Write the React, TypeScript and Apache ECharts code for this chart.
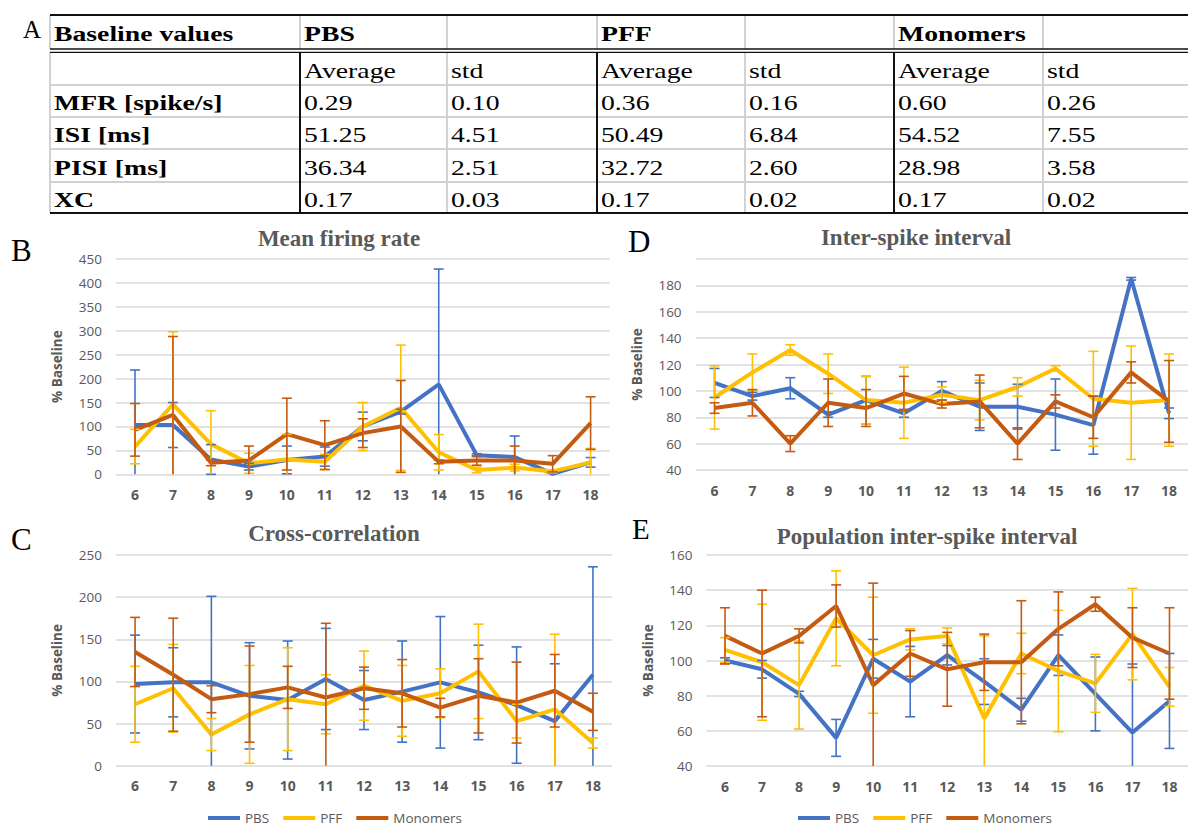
import React, { useEffect, useRef } from "react";
import * as echarts from "echarts";

// ---------- Data ----------
const days = ["6", "7", "8", "9", "10", "11", "12", "13", "14", "15", "16", "17", "18"];
const groups = ["PBS", "PFF", "Monomers"];

// Table (panel A)
const tableTopHeader = ["Baseline values", "PBS", "", "PFF", "", "Monomers", ""];
const tableSubHeader = ["", "Average", "std", "Average", "std", "Average", "std"];
const rowLabels = ["MFR [spike/s]", "ISI [ms]", "PISI [ms]", "XC"];
const pbsAverage = ["0.29", "51.25", "36.34", "0.17"];
const pbsStd = ["0.10", "4.51", "2.51", "0.03"];
const pffAverage = ["0.36", "50.49", "32.72", "0.17"];
const pffStd = ["0.16", "6.84", "2.60", "0.02"];
const monoAverage = ["0.60", "54.52", "28.98", "0.17"];
const monoStd = ["0.26", "7.55", "3.58", "0.02"];

// B: Mean firing rate (% baseline) and error (std)
const mfrPBS = [103, 103, 31, 16, 30, 37, 100, 131, 188, 40, 36, 1, 25];
const mfrPBSErr = [115, 47, 31, 7, 29, 20, 30, 5, 241, 3, 44, 3, 10];
const mfrPFF = [58, 146, 63, 23, 31, 26, 100, 139, 46, 9, 14, 6, 25];
const mfrPFFErr = [36, 152, 70, 21, 53, 16, 50, 131, 37, 6, 7, 3, 29];
const mfrMono = [93, 124, 24, 29, 84, 61, 86, 100, 26, 29, 29, 22, 107];
const mfrMonoErr = [55, 164, 6, 30, 75, 51, 30, 96, 4, 10, 30, 17, 55];

// D: Inter-spike interval
const isiPBS = [106, 96, 102, 82, 93, 83, 100, 88, 88, 82, 74, 185, 83];
const isiPBSErr = [11, 3, 8, 2, 18, 3, 7, 18, 17, 27, 22, 1, 4];
const isiPFF = [95, 114, 131, 113, 93, 91, 97, 93, 103, 117, 94, 91, 93];
const isiPFFErr = [24, 14, 4, 15, 18, 27, 6, 15, 7, 2, 36, 43, 35];
const isiMono = [87, 91, 60, 91, 87, 98, 90, 92, 60, 92, 80, 114, 92];
const isiMonoErr = [4, 10, 6, 18, 14, 13, 3, 20, 12, 5, 16, 8, 31];

// C: Cross-correlation
const xcPBS = [97, 99, 99, 83, 78, 103, 78, 88, 99, 87, 72, 53, 108];
const xcPBSErr = [58, 41, 102, 63, 70, 60, 35, 60, 78, 56, 69, 68, 128];
const xcPFF = [73, 92, 37, 61, 79, 73, 95, 77, 86, 112, 53, 67, 27];
const xcPFFErr = [45, 52, 19, 58, 61, 35, 41, 42, 29, 56, 20, 89, 6];
const xcMono = [135, 108, 79, 85, 93, 81, 92, 86, 69, 83, 75, 89, 64];
const xcMonoErr = [41, 67, 16, 57, 25, 88, 25, 40, 11, 44, 48, 43, 22];

// E: Population inter-spike interval
const pisiPBS = [100, 95, 81, 56, 101, 88, 103, 88, 72, 103, 81, 59, 77];
const pisiPBSErr = [1.5, 5, 1.5, 10.5, 11, 20, 5.5, 13, 6.5, 11.5, 21, 39, 27];
const pisiPFF = [106, 99, 86, 124, 103, 112, 114, 67, 104, 94, 87, 115, 85];
const pisiPFFErr = [7, 33, 25, 27, 33, 6, 4.5, 47, 11.5, 34.5, 16.5, 26, 11];
const pisiMono = [114, 104, 114, 131, 86, 104, 95, 99, 99, 118, 132, 113, 104];
const pisiMonoErr = [16, 36, 4, 12, 58, 13, 21, 16, 35, 21, 4, 17, 26];

// ---------- Styling ----------
const COLORS = ["#4472C4", "#FFC000", "#C55A11"];
const GRAY_TEXT = "#595959";
const GRID_LINE = "#d9d9d9";
const SANS = '"Open Sans", "Noto Sans", sans-serif';
const SERIF = '"Liberation Serif", "Times New Roman", serif';

const panels = [
  {
    title: "Mean firing rate", titleX: 339, titleY: 238,
    grid: { left: 116, top: 259, width: 493.6, height: 215.3 },
    min: 0, max: 450, interval: 50, showMax: true,
    series: [[mfrPBS, mfrPBSErr], [mfrPFF, mfrPFFErr], [mfrMono, mfrMonoErr]],
  },
  {
    title: "Inter-spike interval", titleX: 916, titleY: 237,
    grid: { left: 695.6, top: 259, width: 495.3, height: 211 },
    min: 40, max: 200, interval: 20, showMax: false,
    series: [[isiPBS, isiPBSErr], [isiPFF, isiPFFErr], [isiMono, isiMonoErr]],
  },
  {
    title: "Cross-correlation", titleX: 334, titleY: 533,
    grid: { left: 116, top: 555, width: 496, height: 210.8 },
    min: 0, max: 250, interval: 50, showMax: true,
    series: [[xcPBS, xcPBSErr], [xcPFF, xcPFFErr], [xcMono, xcMonoErr]],
  },
  {
    title: "Population inter-spike interval", titleX: 927, titleY: 536,
    grid: { left: 706.5, top: 555, width: 492.7, height: 211 },
    min: 40, max: 160, interval: 20, showMax: true,
    series: [[pisiPBS, pisiPBSErr], [pisiPFF, pisiPFFErr], [pisiMono, pisiMonoErr]],
  },
];

function errorSeries(gi: number, vals: number[], errs: number[], color: string, min: number, max: number) {
  return {
    type: "custom",
    xAxisIndex: gi,
    yAxisIndex: gi,
    silent: true,
    z: 3,
    data: vals.map((v, i) => [
      i,
      Math.max(v - errs[i], min),
      Math.min(v + errs[i], max),
      v - errs[i] < min ? 1 : 0,
    ]),
    encode: { x: 0, y: [1, 2] },
    renderItem: (params: any, api: any) => {
      const i = api.value(0);
      const lo = api.value(1);
      const hi = api.value(2);
      const clipped = api.value(3);
      const p1 = api.coord([i, hi]);
      const p2 = api.coord([i, lo]);
      const style = { stroke: color, lineWidth: 1.6 };
      const children: any[] = [
        { type: "line", shape: { x1: p1[0], y1: p1[1], x2: p2[0], y2: p2[1] }, style },
        { type: "line", shape: { x1: p1[0] - 5, y1: p1[1], x2: p1[0] + 5, y2: p1[1] }, style },
      ];
      if (!clipped) {
        children.push({ type: "line", shape: { x1: p2[0] - 5, y1: p2[1], x2: p2[0] + 5, y2: p2[1] }, style });
      }
      return { type: "group", children };
    },
  };
}

function buildTableGraphics() {
  const els: any[] = [];
  const colX = [50, 300, 447, 597, 745, 894, 1043];
  const right = 1188;
  const top = 15;
  const headBottom = 50.5;
  const rowLines = [52, 85, 117, 149, 182, 213];
  const light = "#d2d2d2";
  const line = (x1: number, y1: number, x2: number, y2: number, stroke: string, w: number) =>
    els.push({ type: "line", shape: { x1, y1, x2, y2 }, style: { stroke, lineWidth: w }, z: 10 });

  for (let r = 1; r < rowLines.length - 1; r++) line(colX[0], rowLines[r], right, rowLines[r], light, 2);
  colX.forEach((x, ci) => {
    line(x, top, x, headBottom - 1.5, light, 2);
    const black = ci === 1 || ci === 3 || ci === 5;
    line(x, rowLines[0], x, rowLines[rowLines.length - 1], black ? "#111" : light, 2);
  });
  line(colX[0], top, right, top, "#111", 2);
  line(colX[0], 49, right, 49, "#111", 1.3);
  line(colX[0], 52.3, right, 52.3, "#111", 1.3);
  line(colX[0], 213, right, 213, "#111", 2);

  const txt = (text: string, x: number, y: number, bold: boolean) =>
    els.push({
      type: "text",
      x,
      y,
      scaleX: 1.26,
      z: 11,
      style: {
        text,
        font: `${bold ? "bold " : ""}22px ${SERIF}`,
        fill: "#000",
        align: "left",
        verticalAlign: "middle",
      },
    });

  tableTopHeader.forEach((t, ci) => {
    if (t) txt(t, colX[ci] + 4, 34, true);
  });
  const rowCenters = [70.5, 103, 135, 167.5, 199.5];
  tableSubHeader.forEach((t, ci) => {
    if (t) txt(t, colX[ci] + 4, rowCenters[0], false);
  });
  const cols = [pbsAverage, pbsStd, pffAverage, pffStd, monoAverage, monoStd];
  rowLabels.forEach((lab, ri) => {
    txt(lab, colX[0] + 4, rowCenters[ri + 1], true);
    cols.forEach((c, ci) => txt(c[ri], colX[ci + 1] + 4, rowCenters[ri + 1], false));
  });
  return els;
}

export default function App() {
  const ref = useRef<HTMLDivElement>(null);

  useEffect(() => {
    if (!ref.current) return;
    const chart = echarts.init(ref.current, undefined, { renderer: "svg" });

    const grids = panels.map((p) => ({ ...p.grid, containLabel: false }));
    const xAxes = panels.map((p, gi) => ({
      type: "category",
      gridIndex: gi,
      data: days,
      boundaryGap: true,
      axisLine: { show: false },
      axisTick: { show: false },
      axisLabel: { color: GRAY_TEXT, fontWeight: "bold", fontSize: 14, fontFamily: SANS, margin: 13, interval: 0 },
      splitLine: { show: false },
    }));
    const yAxes = panels.map((p, gi) => ({
      type: "value",
      gridIndex: gi,
      min: p.min,
      max: p.max,
      interval: p.interval,
      axisLine: { show: false },
      axisTick: { show: false },
      axisLabel: { color: GRAY_TEXT, fontSize: 13.5, fontFamily: SANS, margin: 14, showMaxLabel: p.showMax },
      splitLine: { lineStyle: { color: GRID_LINE, width: 1.5 } },
      name: "% Baseline",
      nameLocation: "middle",
      nameGap: 52,
      nameTextStyle: { color: GRAY_TEXT, fontWeight: "bold", fontSize: 13.5, fontFamily: SANS },
    }));

    const series: any[] = [];
    panels.forEach((p, gi) => {
      p.series.forEach(([vals, errs], si) => {
        series.push({
          type: "line",
          name: groups[si],
          xAxisIndex: gi,
          yAxisIndex: gi,
          data: vals,
          symbol: "none",
          showSymbol: false,
          z: 2,
          lineStyle: { color: COLORS[si], width: 4 },
          itemStyle: { color: COLORS[si] },
        });
        series.push(errorSeries(gi, vals, errs, COLORS[si], p.min, p.max));
      });
    });

    const letters = [
      { t: "A", x: 23, y: 29, size: 25 },
      { t: "B", x: 11, y: 250, size: 31 },
      { t: "C", x: 11, y: 539, size: 31 },
      { t: "D", x: 628, y: 241, size: 31 },
      { t: "E", x: 632, y: 529, size: 29 },
    ];

    const graphic: any[] = [
      ...buildTableGraphics(),
      ...letters.map((l) => ({
        type: "text",
        x: l.x,
        y: l.y,
        style: { text: l.t, font: `${l.size}px ${SERIF}`, fill: "#000", align: "left", verticalAlign: "middle" },
      })),
      ...panels.map((p) => ({
        type: "text",
        x: p.titleX,
        y: p.titleY,
        style: { text: p.title, font: `bold 23px ${SERIF}`, fill: GRAY_TEXT, align: "center", verticalAlign: "middle" },
      })),
    ];

    const legendBase = {
      data: groups,
      icon: "rect",
      itemWidth: 32,
      itemHeight: 4,
      itemGap: 14,
      padding: 0,
      textStyle: { color: GRAY_TEXT, fontSize: 13.5, fontFamily: SANS },
      selectedMode: false,
    };

    chart.setOption({
      animation: false,
      backgroundColor: "#ffffff",
      grid: grids,
      xAxis: xAxes,
      yAxis: yAxes,
      series,
      graphic,
      legend: [
        { ...legendBase, left: 208, top: 811 },
        { ...legendBase, left: 798, top: 811 },
      ],
    });

    return () => chart.dispose();
  }, []);

  return (
    <div
      ref={ref}
      style={{ position: "absolute", left: 0, top: 0, width: 1188, height: 830, background: "#fff" }}
    />
  );
}
